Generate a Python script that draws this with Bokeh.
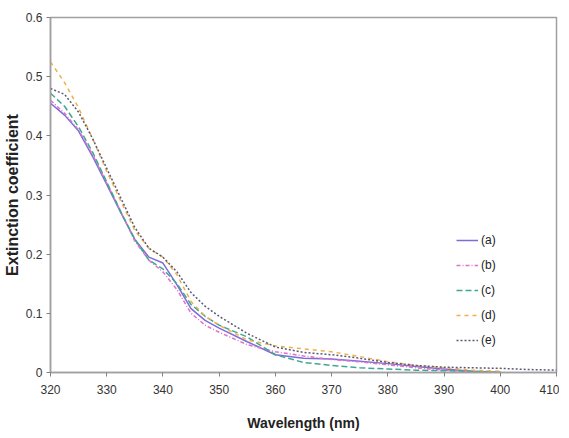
from bokeh.plotting import figure
from bokeh.embed import file_html
from bokeh.resources import INLINE
from bokeh.models import FixedTicker, Range1d, Legend, LegendItem

wavelength = [320, 322.5, 325, 327.5, 330, 332.5, 335, 337.5, 340, 342.5, 345, 347.5, 350,
              355, 360, 365, 370, 375, 380, 385, 390, 395, 400, 405, 410]
nan = float("nan")
series_a = [0.455, 0.435, 0.408, 0.365, 0.318, 0.270, 0.225, 0.195, 0.185, 0.148, 0.108, 0.088, 0.075,
            0.052, 0.030, 0.024, 0.023, 0.019, 0.015, 0.010, 0.006, 0.002, 0.000, nan, nan]
series_b = [0.460, 0.438, 0.410, 0.368, 0.320, 0.272, 0.222, 0.190, 0.170, 0.140, 0.100, 0.080, 0.068,
            0.047, 0.035, 0.028, 0.022, 0.018, 0.013, 0.008, 0.004, 0.001, 0.000, nan, nan]
series_c = [0.472, 0.450, 0.415, 0.372, 0.322, 0.272, 0.225, 0.190, 0.175, 0.150, 0.115, 0.095, 0.080,
            0.060, 0.030, 0.017, 0.012, 0.008, 0.006, 0.004, 0.003, 0.002, 0.001, nan, nan]
series_d = [0.525, 0.490, 0.447, 0.395, 0.340, 0.290, 0.240, 0.210, 0.195, 0.165, 0.120, 0.095, 0.080,
            0.055, 0.045, 0.040, 0.035, 0.027, 0.018, 0.012, 0.008, 0.004, 0.002, nan, nan]
series_e = [0.480, 0.470, 0.440, 0.395, 0.345, 0.295, 0.245, 0.210, 0.195, 0.170, 0.135, 0.112, 0.095,
            0.066, 0.043, 0.034, 0.030, 0.024, 0.017, 0.012, 0.009, 0.008, 0.007, 0.005, 0.004]
labels = ["(a)", "(b)", "(c)", "(d)", "(e)"]
colors = ["#7b6cd8", "#e070d0", "#3fa890", "#f0b048", "#5a5a78"]
dashes = ["solid", "4 2 1 2", "6 3", "4 4", "2 2"]
x_ticks = [320, 330, 340, 350, 360, 370, 380, 390, 400, 410]
y_ticks = [0, 0.1, 0.2, 0.3, 0.4, 0.5, 0.6]

p = figure(frame_width=506, frame_height=355, output_backend="svg", toolbar_location=None,
           x_range=Range1d(320, 410), y_range=Range1d(0, 0.6),
           min_border_left=50, min_border_right=3, min_border_top=17, min_border_bottom=20)
p.grid.visible = False
p.outline_line_color = "#a0a0a0"
p.outline_line_width = 1.5

items = []
for lab, ys, c, d in zip(labels, [series_a, series_b, series_c, series_d, series_e], colors, dashes):
    r = p.line(wavelength, ys, line_color=c, line_width=1.5, line_dash=d)
    items.append(LegendItem(label=lab, renderers=[r]))

legend = Legend(items=items, location=(406, 22), padding=0, margin=0, spacing=5,
                label_height=20, glyph_height=20, glyph_width=22, label_standoff=3,
                border_line_color=None, background_fill_alpha=0,
                label_text_font="Liberation Sans", label_text_font_size="12px",
                label_text_color="#222222")
p.add_layout(legend, "center")

for ax in [p.xaxis, p.yaxis]:
    ax.axis_line_color = "#a0a0a0"
    ax.axis_line_width = 1.5
    ax.major_tick_line_color = "#808080"
    ax.minor_tick_line_color = None
    ax.major_tick_in = 0
    ax.major_tick_out = 4
    ax.major_label_text_font = "Liberation Sans"
    ax.major_label_text_font_size = "12px"
    ax.major_label_text_color = "#333333"
    ax.axis_label_text_font = "Liberation Sans"
    ax.axis_label_text_font_style = "bold"
    ax.axis_label_text_color = "#222222"

p.xaxis.axis_label_text_font_size = "14px"
p.yaxis.axis_label_text_font_size = "16px"
p.xaxis.ticker = FixedTicker(ticks=x_ticks)
p.yaxis.ticker = FixedTicker(ticks=y_ticks)
p.yaxis.major_label_overrides = {0: "0"}
p.xaxis.axis_label = "Wavelength (nm)"
p.yaxis.axis_label = "Extinction coefficient"
p.xaxis.major_label_standoff = 8
p.xaxis.axis_label_standoff = 18
p.yaxis.major_label_standoff = 4
p.yaxis.axis_label_standoff = 2

open("out.html", "w").write(file_html(p, INLINE))
